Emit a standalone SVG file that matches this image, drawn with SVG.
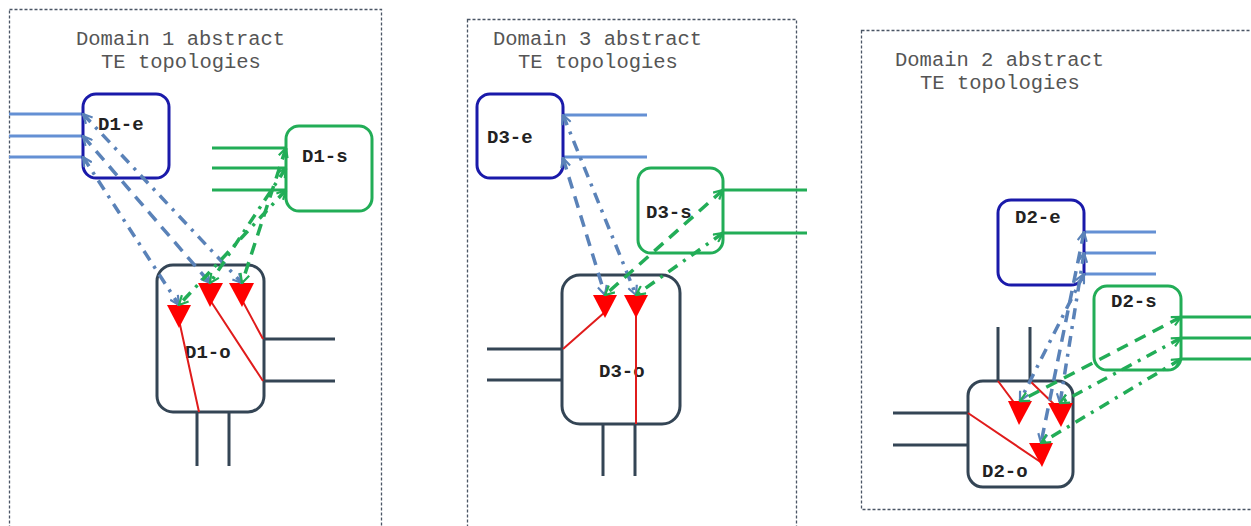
<svg xmlns="http://www.w3.org/2000/svg" width="1251" height="526" viewBox="0 0 1251 526">
<style>
.panel{fill:none;stroke:#4a5565;stroke-width:1.3;stroke-dasharray:3,2}
.title{font-family:"Liberation Mono",monospace;font-size:20.5px;fill:#555}
.lbl{font-family:"Liberation Mono",monospace;font-size:19px;font-weight:bold;fill:#222}
.eb{fill:#fff;stroke:#1a1aaa;stroke-width:3}
.sb{fill:#fff;stroke:#22ad57;stroke-width:3}
.ob{fill:#fff;stroke:#344555;stroke-width:3}
.pe{stroke:#6490d4;stroke-width:3;fill:none}
.ps{stroke:#22ad57;stroke-width:3;fill:none}
.po{stroke:#344555;stroke-width:3;fill:none}
.red{stroke:#e01c1c;stroke-width:2;fill:none}
.tri{fill:#ff0000}
.cb{stroke:#5a82b8;stroke-width:3.5;fill:none;marker-start:url(#ab);marker-end:url(#ab)}
.cg{stroke:#22ad57;stroke-width:3.5;fill:none;marker-start:url(#ag);marker-end:url(#ag)}
.dd{stroke-dasharray:11,7,3,7}
.da{stroke-dasharray:12,8}
</style>
<defs>
<marker id="ab" viewBox="0 0 12 12" refX="11" refY="6" markerWidth="11" markerHeight="11" markerUnits="userSpaceOnUse" orient="auto-start-reverse"><path d="M1,1 L11,6 L1,11" fill="none" stroke="#5a82b8" stroke-width="2.4"/></marker>
<marker id="ag" viewBox="0 0 12 12" refX="11" refY="6" markerWidth="11" markerHeight="11" markerUnits="userSpaceOnUse" orient="auto-start-reverse"><path d="M1,1 L11,6 L1,11" fill="none" stroke="#22ad57" stroke-width="2.4"/></marker>
</defs>
<rect width="1251" height="526" fill="#fff"/>
<g id="panel-d1">
<rect class="panel" x="9.5" y="9.5" width="372" height="530"/>
<text class="title" x="76" y="45">Domain 1 abstract</text>
<text class="title" x="101" y="68">TE topologies</text>
</g>
<g id="panel-d3">
<rect class="panel" x="467.5" y="19.5" width="329" height="520"/>
<text class="title" x="493" y="45">Domain 3 abstract</text>
<text class="title" x="518" y="68">TE topologies</text>
</g>
<g id="panel-d2">
<rect class="panel" x="861.5" y="30.5" width="400" height="479"/>
<text class="title" x="895" y="66">Domain 2 abstract</text>
<text class="title" x="920" y="89">TE topologies</text>
</g>

<g id="D1-e">
<path class="pe" d="M9,114 H83 M9,136 H83 M9,157 H83"/>
<rect class="eb" x="83" y="94" width="86" height="84" rx="13"/>
<text class="lbl" x="98" y="130">D1-e</text>
</g>
<g id="D1-s">
<path class="ps" d="M212,148 H286 M212,168 H286 M212,190 H286"/>
<rect class="sb" x="286" y="126" width="86" height="85" rx="13"/>
<text class="lbl" x="302" y="162">D1-s</text>
</g>
<g id="D1-o">
<path class="po" d="M264,339 H335 M264,381 H335 M197,412 V466 M229,412 V466"/>
<rect class="ob" x="157" y="265" width="107" height="147" rx="16"/>
<text class="lbl" x="185" y="358">D1-o</text>
<path class="red" d="M179,320 L199,412 M210,300 L263,381 M242,300 L263,339"/>
<polygon class="tri" points="167,305 191,305 179,328"/>
<polygon class="tri" points="198,283 223,283 210,307"/>
<polygon class="tri" points="229,283 254,283 242,307"/>
</g>

<g id="D3-e">
<path class="pe" d="M563,115 H647 M563,157 H647"/>
<rect class="eb" x="477" y="94" width="86" height="84" rx="13"/>
<text class="lbl" x="487" y="143">D3-e</text>
</g>
<g id="D3-s">
<path class="ps" d="M723,190 H807 M723,233 H807"/>
<rect class="sb" x="638" y="168" width="85" height="85" rx="13"/>
<text class="lbl" x="646" y="218">D3-s</text>
</g>
<g id="D3-o">
<path class="po" d="M487,349 H562 M487,380 H562 M603,424 V476 M635,424 V476"/>
<rect class="ob" x="562" y="275" width="118" height="149" rx="18"/>
<text class="lbl" x="599" y="377">D3-o</text>
<path class="red" d="M605,312 L563,349 M636,312 L636,424"/>
<polygon class="tri" points="593,295 617,295 605,318"/>
<polygon class="tri" points="624,295 648,295 636,318"/>
</g>

<g id="D2-e">
<path class="pe" d="M1084,232 H1156 M1084,253 H1156 M1084,274 H1156"/>
<rect class="eb" x="998" y="200" width="86" height="85" rx="13"/>
<text class="lbl" x="1015" y="223">D2-e</text>
</g>
<g id="D2-s">
<path class="ps" d="M1181,317 H1251 M1181,338 H1251 M1181,359 H1251"/>
<rect class="sb" x="1094" y="286" width="87" height="84" rx="13"/>
<text class="lbl" x="1111" y="307">D2-s</text>
</g>
<g id="D2-o">
<path class="po" d="M893,413 H968 M893,445 H968 M998,327 V381 M1030,327 V381"/>
<rect class="ob" x="968" y="381" width="105" height="106" rx="15"/>
<text class="lbl" x="982" y="477">D2-o</text>
<path class="red" d="M998,381 L1018,408 M1030,381 L1060,410 M968,413 L1042,463"/>
<polygon class="tri" points="1008,401 1032,401 1019,425"/>
<polygon class="tri" points="1048,403 1073,403 1061,427"/>
<polygon class="tri" points="1029,443 1053,443 1042,467"/>
</g>

<g id="connectors">
<path class="cb dd" d="M83,114 L242,283"/>
<path class="cb da" d="M83,136 L210,283"/>
<path class="cb dd" d="M83,157 L179,305"/>
<path class="cg da" d="M286,148 L242,283"/>
<path class="cg dd" d="M286,168 L210,283"/>
<path class="cg dd" d="M286,190 L179,305"/>

<path class="cb dd" d="M563,115 L636,295"/>
<path class="cb da" d="M563,158 L605,295"/>
<path class="cg da" d="M723,190 L605,295"/>
<path class="cg dd" d="M723,233 L636,295"/>

<path class="cb da" d="M1084,232 L1041,443"/>
<path class="cb dd" d="M1084,253 L1060,403"/>
<path class="cb dd" d="M1084,274 L1020,401"/>
<path class="cg da" d="M1181,317 L1020,401"/>
<path class="cg dd" d="M1181,338 L1060,403"/>
<path class="cg dd" d="M1181,359 L1041,443"/>
</g>
</svg>
